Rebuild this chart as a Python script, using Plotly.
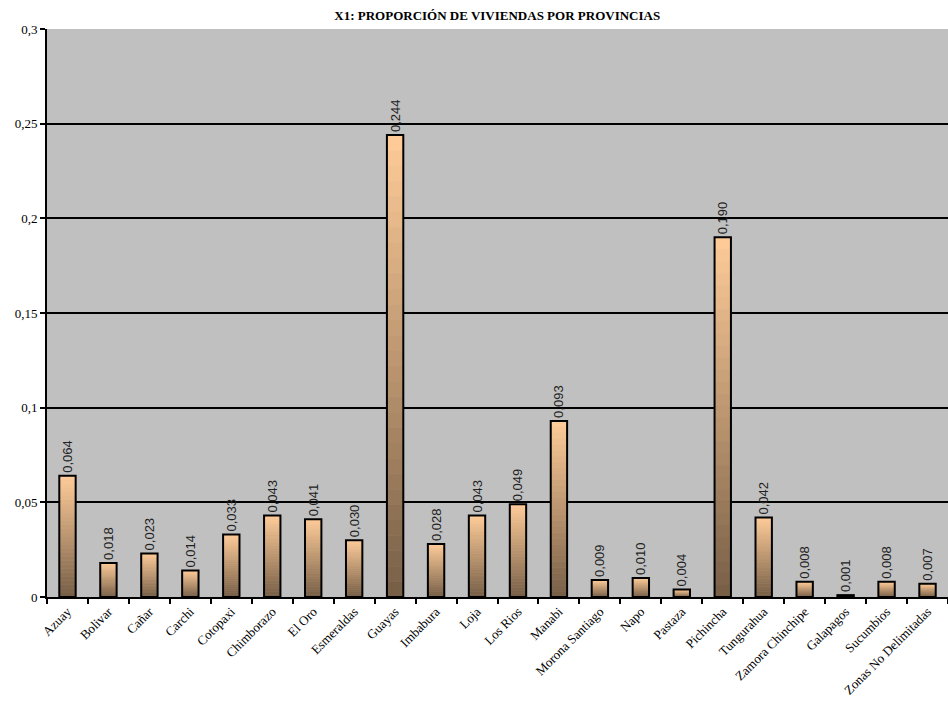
import plotly.graph_objects as go

provincias = ["Azuay", "Bolivar", "Cañar", "Carchi", "Cotopaxi", "Chimborazo", "El Oro",
              "Esmeraldas", "Guayas", "Imbabura", "Loja", "Los Rios", "Manabi",
              "Morona Santiago", "Napo", "Pastaza", "Pichincha", "Tungurahua",
              "Zamora Chinchipe", "Galapagos", "Sucumbios", "Zonas No Delimitadas"]
proporcion = [0.064, 0.018, 0.023, 0.014, 0.033, 0.043, 0.041, 0.030, 0.244, 0.028, 0.043,
              0.049, 0.093, 0.009, 0.010, 0.004, 0.190, 0.042, 0.008, 0.001, 0.008, 0.007]
y_ticks = [0, 0.05, 0.1, 0.15, 0.2, 0.25, 0.3]
y_ticklabels = ["0", "0,05", "0,1", "0,15", "0,2", "0,25", "0,3"]

top_rgb = (255, 204, 153)
bot_rgb = (118, 94, 70)
N = 30

fig = go.Figure()
for i in range(N):
    t = (i + 0.5) / N
    c = "rgb(%d,%d,%d)" % tuple(round(bot_rgb[k] + (top_rgb[k] - bot_rgb[k]) * t) for k in range(3))
    fig.add_trace(go.Bar(
        x=provincias,
        y=[v / N for v in proporcion],
        base=[v * i / N for v in proporcion],
        marker=dict(color=c, line=dict(width=0.6, color=c)),
        showlegend=False, hoverinfo="skip",
    ))

fig.add_trace(go.Bar(
    x=provincias, y=proporcion,
    marker=dict(color="rgba(0,0,0,0)", line=dict(color="black", width=2)),
    texttemplate="%{y:.3f}",
    textposition="outside", textangle=-90, constraintext="none",
    textfont=dict(family="Liberation Sans, Arial", size=13, color="#222"),
    cliponaxis=False, showlegend=False,
))

fig.update_layout(
    width=948, height=709,
    barmode="overlay", bargap=0.6,
    separators=",.",
    paper_bgcolor="white", plot_bgcolor="#C0C0C0",
    margin=dict(l=47, r=0, t=29, b=112),
    title=dict(text="<b>X1: PROPORCIÓN DE VIVIENDAS POR PROVINCIAS</b>",
               x=0.5245, xanchor="center", y=0.985, yanchor="top",
               font=dict(family="Liberation Serif, Times New Roman", size=13, color="black")),
    font=dict(family="Liberation Serif, Times New Roman", size=12, color="black"),
)
fig.update_yaxes(range=[0, 0.3], tickvals=y_ticks, ticktext=y_ticklabels,
                 showgrid=True, gridcolor="black", gridwidth=2,
                 ticks="outside", ticklen=5, tickwidth=2, tickcolor="black",
                 showline=True, linecolor="black", linewidth=2,
                 tickfont=dict(family="Liberation Serif, Times New Roman", size=13),
                 zeroline=False)
fig.update_xaxes(tickangle=-45, tickson="boundaries", ticks="outside", ticklen=5,
                 tickwidth=2, tickcolor="black", showline=True, linecolor="black",
                 linewidth=2, showgrid=False,
                 tickfont=dict(family="Liberation Serif, Times New Roman", size=13))

fig.write_html("out.html", config={"displayModeBar": False},
               post_script="document.body.style.margin='0';")
